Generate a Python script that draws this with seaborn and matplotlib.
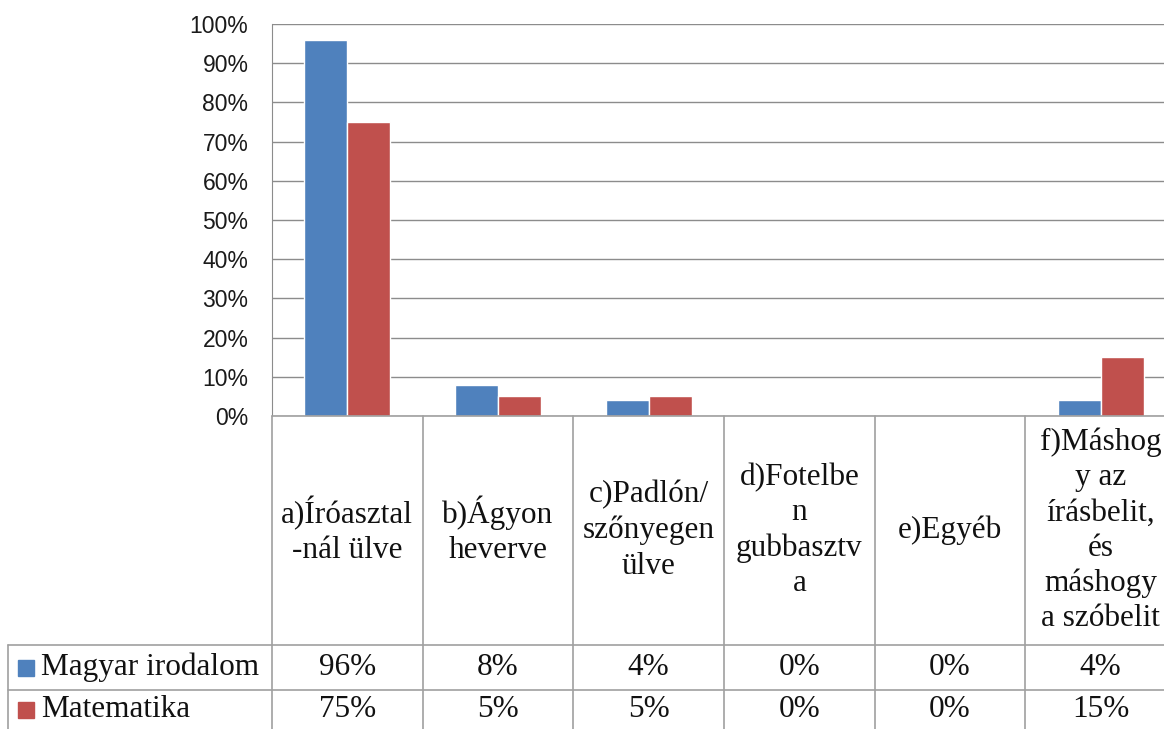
import matplotlib
matplotlib.use("Agg")
import matplotlib.pyplot as plt
import pandas as pd
import seaborn as sns
from matplotlib.patches import Rectangle

categories = ["a)Íróasztal\n-nál ülve", "b)Ágyon\nheverve", "c)Padlón/\nszőnyegen\nülve",
              "d)Fotelbe\nn\ngubbasztv\na", "e)Egyéb",
              "f)Máshog\ny az\nírásbelit,\nés\nmáshogy\na szóbelit"]
series_names = ["Magyar irodalom", "Matematika"]
magyar = [96, 8, 4, 0, 0, 4]
matek = [75, 5, 5, 0, 0, 15]
colors = ["#4F81BD", "#C0504D"]

df = pd.DataFrame({
    "cat": categories * 2,
    "val": magyar + matek,
    "series": [series_names[0]] * 6 + [series_names[1]] * 6,
})

W, H = 1164, 729
sns.set_style("white")
fig = plt.figure(figsize=(W / 100, H / 100), dpi=100)

# plot area in pixels
left, right, top, bottom = 272, 1176, 24, 416
ax = fig.add_axes([left / W, 1 - bottom / H, (right - left) / W, (bottom - top) / H])
sns.barplot(data=df, x="cat", y="val", hue="series", palette=colors, width=0.57,
            saturation=1, ax=ax, legend=False)
ax.set_xlim(-0.5, 5.5)
ax.set_ylim(0, 100)
ax.set_yticks(range(0, 101, 10))
ax.set_yticklabels([f"{t}%" for t in range(0, 101, 10)], family="Liberation Sans", fontsize=16.5,
                   color="#1a1a1a")
ax.set_xticks([])
ax.set_xlabel("")
ax.set_ylabel("")
ax.tick_params(axis="y", length=0, pad=17)
ax.yaxis.grid(True, color="#8C8C8C", linewidth=1)
ax.set_axisbelow(True)
for s in ["top", "right", "bottom"]:
    ax.spines[s].set_visible(False)
ax.spines["left"].set_color("#8C8C8C")

# data table overlay in pixel coordinates
tab = fig.add_axes([0, 0, 1, 1])
tab.set_xlim(0, W)
tab.set_ylim(H, 0)
tab.axis("off")
lc = "#A0A0A0"
col_w = (right - left) / 6
row1, row2, row3 = 645, 690, 735
tab.plot([left, W + 5], [bottom, bottom], color=lc, lw=1.2)
tab.plot([8, W + 5], [row1, row1], color=lc, lw=1.2)
tab.plot([8, W + 5], [row2, row2], color=lc, lw=1.2)
tab.plot([8, 8], [row1, row3], color=lc, lw=1.2)
for i in range(6):
    x = left + i * col_w
    tab.plot([x, x], [bottom, row3], color=lc, lw=1.2)

serif = "Liberation Serif"
fs = 22.5
for i, lab in enumerate(categories):
    cx = left + (i + 0.5) * col_w
    tab.text(cx, (bottom + row1) / 2, lab, ha="center", va="center", family=serif,
             fontsize=fs, linespacing=1.28, color="#111111")
    tab.text(cx, (row1 + row2) / 2, f"{magyar[i]}%", ha="center", va="center",
             family=serif, fontsize=fs, color="#111111")
    tab.text(cx, (row2 + row3) / 2 - 3, f"{matek[i]}%", ha="center", va="center",
             family=serif, fontsize=fs, color="#111111")

for j, (name, c) in enumerate(zip(series_names, colors)):
    yc = (row1 + row2) / 2 if j == 0 else (row2 + row3) / 2 - 3
    tab.add_patch(Rectangle((18, yc - 8), 16, 16, color=c))
    tab.text(41, yc, name, ha="left", va="center", family=serif, fontsize=fs, color="#111111")

fig.savefig("out.png", dpi=100)
